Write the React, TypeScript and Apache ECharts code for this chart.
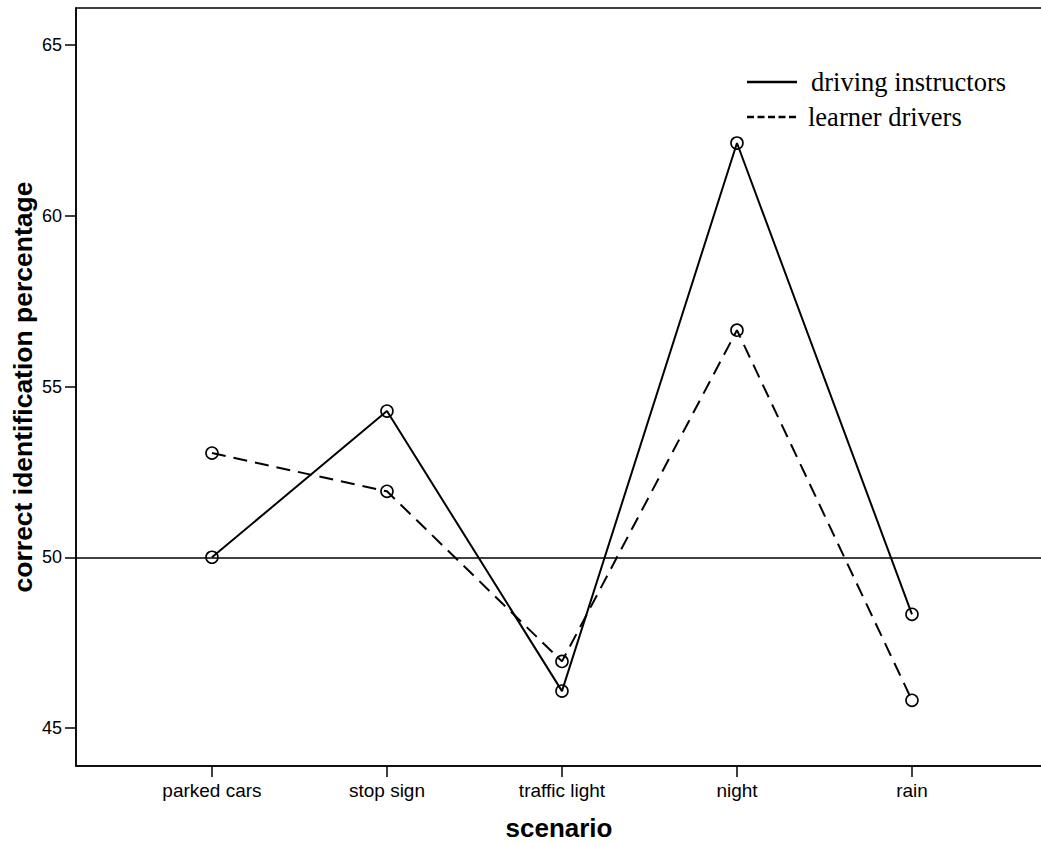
import React, { useEffect, useRef } from "react";
import * as echarts from "echarts";

const categories = ["parked cars", "stop sign", "traffic light", "night", "rain"];
const instructors = [50.0, 54.28, 46.08, 62.13, 48.33];
const learners = [53.05, 51.93, 46.95, 56.65, 45.81];
const yTicks = [45, 50, 55, 60, 65];
const seriesNames = ["driving instructors", "learner drivers"];

export default function App() {
  const ref = useRef<HTMLDivElement>(null);
  useEffect(() => {
    if (!ref.current) return;
    const chart = echarts.init(ref.current, null, { renderer: "svg" });
    const toPts = (arr: number[]) => arr.map((v, i) => [i, v]);
    const sans = "'Liberation Sans', Arial, sans-serif";
    const serif = "'Liberation Serif', 'Times New Roman', serif";
    chart.setOption({
      animation: false,
      backgroundColor: "#fff",
      grid: {
        left: 76,
        top: 8,
        width: 966,
        height: 758,
        containLabel: false,
        outerBoundsMode: "none",
        show: true,
        borderColor: "#000",
        borderWidth: 1.5,
        backgroundColor: "transparent",
      },
      xAxis: {
        type: "value",
        min: -0.777,
        max: -0.777 + 966 / 175,
        name: "scenario",
        nameLocation: "middle",
        nameGap: 49,
        nameTextStyle: { fontFamily: sans, fontSize: 26, fontWeight: "bold", color: "#000" },
        axisLine: { show: true, onZero: false, lineStyle: { color: "#000", width: 1.5 } },
        axisTick: { show: true, length: 11, customValues: [0, 1, 2, 3, 4], lineStyle: { color: "#000", width: 1.5 } },
        axisLabel: {
          customValues: [0, 1, 2, 3, 4],
          margin: 15,
          fontFamily: sans,
          fontSize: 19,
          color: "#000",
          formatter: (v: number) => categories[Math.round(v)] ?? "",
        },
        splitLine: { show: false },
      },
      yAxis: {
        type: "value",
        min: 45 - 38 / 34.15,
        max: 65 + 37 / 34.15,
        name: "correct identification percentage",
        nameLocation: "middle",
        nameGap: 40,
        nameMoveOverlap: false,
        nameTextStyle: { fontFamily: sans, fontSize: 26.5, fontWeight: "bold", color: "#000" },
        axisLine: { show: true, onZero: false, lineStyle: { color: "#000", width: 1.5 } },
        axisTick: { show: true, length: 11, customValues: yTicks, lineStyle: { color: "#000", width: 1.5 } },
        axisLabel: { customValues: yTicks, margin: 14, fontFamily: sans, fontSize: 18, color: "#000" },
        splitLine: { show: false },
      },
      series: [
        {
          name: seriesNames[0],
          type: "line",
          data: toPts(instructors),
          symbol: "circle",
          symbolSize: 12,
          lineStyle: { color: "#000", width: 2 },
          itemStyle: { color: "rgba(0,0,0,0)", borderColor: "#000", borderWidth: 1.6 },
          markLine: {
            silent: true,
            symbol: "none",
            label: { show: false },
            lineStyle: { color: "#000", width: 1.5, type: "solid" },
            data: [{ yAxis: 50 }],
          },
        },
        {
          name: seriesNames[1],
          type: "line",
          data: toPts(learners),
          symbol: "circle",
          symbolSize: 12,
          lineStyle: { color: "#000", width: 2, type: [14, 8] },
          itemStyle: { color: "rgba(0,0,0,0)", borderColor: "#000", borderWidth: 1.6 },
        },
      ],
      graphic: [
        { type: "line", shape: { x1: 747, y1: 82, x2: 797, y2: 82 }, style: { stroke: "#000", lineWidth: 2.5 } },
        { type: "text", x: 811, y: 82, style: { text: seriesNames[0], font: `26.5px ${serif}`, fill: "#000", verticalAlign: "middle" } },
        { type: "line", shape: { x1: 747, y1: 117, x2: 797, y2: 117 }, style: { stroke: "#000", lineWidth: 2.5, lineDash: [7, 3.5] } },
        { type: "text", x: 808, y: 117, style: { text: seriesNames[1], font: `26.5px ${serif}`, fill: "#000", verticalAlign: "middle" } },
      ],
    });
    return () => chart.dispose();
  }, []);
  return <div ref={ref} style={{ position: "fixed", left: 0, top: 0, width: 1041, height: 845 }} />;
}
